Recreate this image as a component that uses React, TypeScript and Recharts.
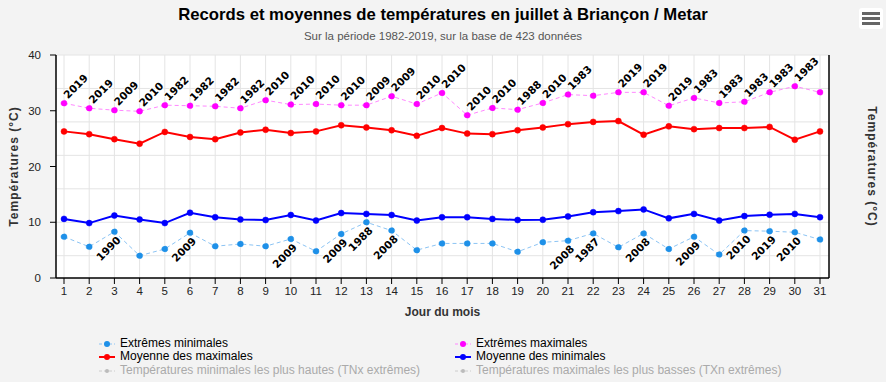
import React from 'react';
import { LineChart, Line, XAxis, YAxis, CartesianGrid, LabelList } from 'recharts';

const days = [1, 2, 3, 4, 5, 6, 7, 8, 9, 10, 11, 12, 13, 14, 15, 16, 17, 18, 19, 20, 21, 22, 23, 24, 25, 26, 27, 28, 29, 30, 31];

const extMax = [31.35, 30.45, 30.1, 29.9, 31.0, 30.9, 30.8, 30.45, 31.9, 31.1, 31.2, 31.0, 31.0, 32.6, 31.2, 33.2, 29.2, 30.5, 30.2, 31.4, 32.9, 32.7, 33.3, 33.3, 30.9, 32.3, 31.4, 31.6, 33.3, 34.4, 33.3];
const moyMax = [26.3, 25.8, 24.9, 24.1, 26.2, 25.3, 24.9, 26.1, 26.6, 26.0, 26.3, 27.4, 27.0, 26.5, 25.5, 26.9, 25.9, 25.8, 26.5, 27.0, 27.6, 28.0, 28.15, 25.7, 27.2, 26.7, 26.9, 26.9, 27.1, 24.8, 26.3];
const moyMin = [10.6, 9.85, 11.2, 10.5, 9.85, 11.7, 10.9, 10.5, 10.4, 11.3, 10.3, 11.65, 11.5, 11.3, 10.3, 10.9, 10.9, 10.6, 10.4, 10.45, 11.05, 11.8, 12.0, 12.3, 10.7, 11.5, 10.3, 11.1, 11.35, 11.5, 10.9];
const extMin = [7.4, 5.6, 8.3, 4.0, 5.2, 8.1, 5.7, 6.1, 5.7, 7.0, 4.8, 7.9, 10.0, 8.5, 5.0, 6.2, 6.2, 6.2, 4.7, 6.4, 6.7, 8.0, 5.5, 8.0, 5.2, 7.4, 4.2, 8.5, 8.4, 8.2, 6.9];

const extMaxYears = ['2019', '2019', '2009', '2010', '1982', '1982', '1982', '1982', '2010', '2010', '2010', '2010', '2009', '2009', '2010', '2010', '2010', '2010', '1988', '2010', '1983', '', '2019', '2019', '2019', '1983', '1983', '1983', '1983', '1983', ''];
const extMinYears = ['', '', '1990', '', '', '2009', '', '', '', '2009', '', '2009', '1988', '2008', '', '', '', '', '', '', '2008', '1987', '', '2008', '', '2009', '', '2010', '2019', '2010', ''];

const yTicks = [0, 10, 20, 30, 40];
const gridValues = [0, 2, 4, 6, 8, 10, 12, 14, 16, 18, 20, 22, 24, 26, 28, 30, 32, 34, 36, 38, 40];

const legendItems = [
  { name: 'Extrêmes minimales', dot: '#1e90e8', line: '#8cc4f4', dashed: true, hidden: false },
  { name: 'Extrêmes maximales', dot: '#ff00ff', line: '#ff88ff', dashed: true, hidden: false },
  { name: 'Moyenne des maximales', dot: '#ff0000', line: '#ff0000', dashed: false, hidden: false },
  { name: 'Moyenne des minimales', dot: '#0000ff', line: '#0000ff', dashed: false, hidden: false },
  { name: 'Températures minimales les plus hautes (TNx extrêmes)', dot: '#bbbbbb', line: '#cccccc', dashed: true, hidden: true },
  { name: 'Températures maximales les plus basses (TXn extrêmes)', dot: '#bbbbbb', line: '#cccccc', dashed: true, hidden: true },
];

const data = days.map((d, i) => ({
  day: d,
  extMax: extMax[i],
  moyMax: moyMax[i],
  moyMin: moyMin[i],
  extMin: extMin[i],
  extMaxYear: extMaxYears[i],
  extMinYear: extMinYears[i],
}));

const FONT = '"Liberation Sans", Arial, sans-serif';
const LABEL_FONT = '"DejaVu Sans", Verdana, sans-serif';

const TopLabel = (props: any) => {
  const { x, y, value } = props;
  if (!value) return null;
  const ax = x + 4;
  const ay = y - 4;
  return (
    <text x={ax} y={ay} transform={`rotate(-45 ${ax} ${ay})`} textAnchor="start" fontSize={10.5} fontWeight="bold" fontFamily={LABEL_FONT} fill="#000" stroke="#fff" strokeWidth={2} paintOrder="stroke">
      {value}
    </text>
  );
};

const BottomLabel = (props: any) => {
  const { x, y, value } = props;
  if (!value) return null;
  const ax = x + 7;
  const ay = y + 9;
  return (
    <text x={ax} y={ay} transform={`rotate(-45 ${ax} ${ay})`} textAnchor="end" fontSize={10.5} fontWeight="bold" fontFamily={LABEL_FONT} fill="#000" stroke="#fff" strokeWidth={2} paintOrder="stroke">
      {value}
    </text>
  );
};

const LegendSymbol = ({ item }: any) => (
  <svg width={16} height={10} style={{ display: 'block' }}>
    <line x1={0} y1={5} x2={16} y2={5} stroke={item.line} strokeWidth={item.dashed ? 1 : 2} strokeDasharray={item.dashed ? '3 2' : undefined} />
    <circle cx={8} cy={5} r={item.hidden ? 2 : 3} fill={item.dot} />
  </svg>
);

export default function App() {
  const legendPos = [
    { left: 99, top: 337 },
    { left: 455, top: 337 },
    { left: 99, top: 350 },
    { left: 455, top: 350 },
    { left: 99, top: 364 },
    { left: 455, top: 364 },
  ];
  const axisTitle = { fontSize: 12, fontWeight: 'bold', fill: '#333', fontFamily: FONT, letterSpacing: 1 };
  return (
    <div style={{ position: 'absolute', left: 0, top: 0, width: 886, height: 382, background: '#f3f3f3', fontFamily: FONT, overflow: 'hidden' }}>
      <div style={{ position: 'absolute', left: 0, top: 5, width: 886, textAlign: 'center', fontSize: 16.7, fontWeight: 'bold', color: '#000' }}>
        Records et moyennes de températures en juillet à Briançon / Metar
      </div>
      <div style={{ position: 'absolute', left: 0, top: 30, width: 886, textAlign: 'center', fontSize: 11.5, color: '#555' }}>
        Sur la période 1982-2019, sur la base de 423 données
      </div>
      <div style={{ position: 'absolute', left: 859, top: 8, width: 24, height: 21, background: '#fff', borderRadius: 3 }}>
        <div style={{ position: 'absolute', left: 3, top: 4, width: 18, height: 3, background: '#666' }} />
        <div style={{ position: 'absolute', left: 3, top: 9, width: 18, height: 3, background: '#666' }} />
        <div style={{ position: 'absolute', left: 3, top: 14, width: 18, height: 3, background: '#666' }} />
      </div>
      <div style={{ position: 'absolute', left: 0, top: 0 }}>
        <LineChart width={886} height={382} data={data} margin={{ top: 55, right: 0, left: 0, bottom: 0 }}>
          <CartesianGrid fill="#ffffff" stroke="#e4e4e4" horizontalValues={gridValues} verticalValues={days} yAxisId="left" />
          <XAxis
            dataKey="day"
            type="number"
            domain={[1, 31]}
            ticks={days}
            interval={0}
            padding={{ left: 8, right: 9 }}
            height={104}
            axisLine={{ stroke: '#000', strokeWidth: 1.5 }}
            tickLine={{ stroke: '#000' }}
            tickSize={6}
            tickMargin={3}
            tick={{ fontSize: 11.5, fill: '#222', fontFamily: FONT }}
            label={{ value: 'Jour du mois', position: 'insideTop', offset: 29, ...axisTitle, letterSpacing: 0 }}
          />
          <YAxis
            yAxisId="left"
            orientation="left"
            width={56}
            domain={[0, 40]}
            ticks={yTicks}
            axisLine={{ stroke: '#000', strokeWidth: 1.5 }}
            tickLine={{ stroke: '#000' }}
            tickSize={6}
            tickMargin={9}
            tick={{ fontSize: 11.5, fill: '#222', fontFamily: FONT }}
            label={{ value: 'Températures (°C)', angle: -90, position: 'insideLeft', offset: 14, style: { textAnchor: 'middle' }, ...axisTitle }}
          />
          <YAxis
            yAxisId="right"
            orientation="right"
            width={57}
            domain={[0, 40]}
            ticks={yTicks}
            axisLine={{ stroke: '#000', strokeWidth: 1.5 }}
            tickLine={{ stroke: '#000' }}
            tickSize={6}
            tickMargin={9}
            tick={{ fontSize: 11.5, fill: '#222', fontFamily: FONT }}
            label={{ value: 'Températures (°C)', angle: 90, position: 'insideRight', offset: 14, style: { textAnchor: 'middle' }, ...axisTitle }}
          />
          <Line yAxisId="left" type="linear" dataKey="extMin" stroke="#8cc4f4" strokeWidth={1} strokeDasharray="4 3" dot={{ r: 3, fill: '#1e90e8', stroke: '#1e90e8', strokeWidth: 0.5 }} isAnimationActive={false}>
            <LabelList dataKey="extMinYear" content={<BottomLabel />} />
          </Line>
          <Line yAxisId="left" type="linear" dataKey="extMax" stroke="#ff88ff" strokeWidth={1} strokeDasharray="4 3" dot={{ r: 3, fill: '#ff00ff', stroke: '#ff00ff', strokeWidth: 0.5 }} isAnimationActive={false}>
            <LabelList dataKey="extMaxYear" content={<TopLabel />} />
          </Line>
          <Line yAxisId="left" type="linear" dataKey="moyMax" stroke="#ff0000" strokeWidth={2} dot={{ r: 3, fill: '#ff0000', stroke: '#ff0000', strokeWidth: 0.5 }} isAnimationActive={false} />
          <Line yAxisId="left" type="linear" dataKey="moyMin" stroke="#0000ff" strokeWidth={2} dot={{ r: 3, fill: '#0000ff', stroke: '#0000ff', strokeWidth: 0.5 }} isAnimationActive={false} />
        </LineChart>
      </div>
      {legendItems.map((item, i) => (
        <div key={item.name} style={{ position: 'absolute', left: legendPos[i].left, top: legendPos[i].top, display: 'flex', alignItems: 'center', fontSize: 12, color: item.hidden ? '#aaaaaa' : '#000', whiteSpace: 'nowrap', lineHeight: '13px' }}>
          <LegendSymbol item={item} />
          <span style={{ marginLeft: 5 }}>{item.name}</span>
        </div>
      ))}
    </div>
  );
}
